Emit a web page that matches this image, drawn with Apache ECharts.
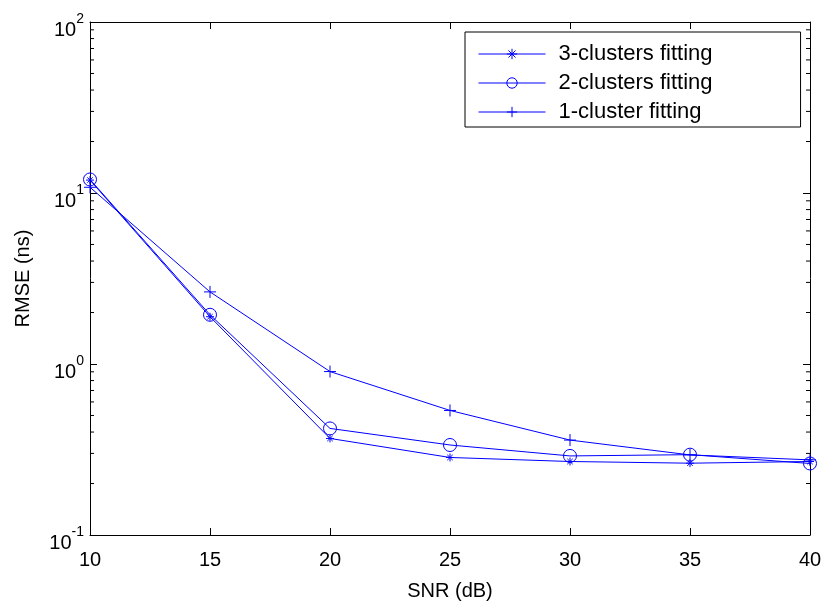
<!DOCTYPE html>
<html><head><meta charset="utf-8">
<script src="https://cdn.jsdelivr.net/npm/echarts@6/dist/echarts.min.js"></script>
<style>html,body{margin:0;padding:0;background:#fff}#c{width:827px;height:606px}</style>
</head><body><div id="c"></div>
<script>
const snr = [10, 15, 20, 25, 30, 35, 40];
const rmse3 = [11.9, 1.89, 0.367, 0.284, 0.269, 0.263, 0.269];
const rmse2 = [12.0, 1.94, 0.42, 0.336, 0.29, 0.295, 0.262];
const rmse1 = [10.8, 2.64, 0.903, 0.535, 0.359, 0.294, 0.275];
const seriesNames = ['3-clusters fitting', '2-clusters fitting', '1-cluster fitting'];
const minorTickValues = [0.2,0.3,0.4,0.5,0.6,0.7,0.8,0.9,2,3,4,5,6,7,8,9,20,30,40,50,60,70,80,90];

const FONT = 'Liberation Sans, Arial, Helvetica, sans-serif';
const BLUE = '#0000ff';
const STAR = 'path://M5,0L5,10M0,5L10,5M1.6,1.6L8.4,8.4M8.4,1.6L1.6,8.4';
const PLUS = 'path://M5,0L5,10M0,5L10,5';

function pairs(ys){ return snr.map((x,i)=>[x, ys[i]]); }
function lineSeries(name, ys, symbol, size){
  return {
    name, type:'line', data: pairs(ys), symbol, symbolSize: size,
    lineStyle:{color:BLUE, width:1},
    itemStyle:{color:'none', borderColor:BLUE, borderWidth:1},
    emphasis:{disabled:true}, animation:false, z:3
  };
}

const chart = echarts.init(document.getElementById('c'));
chart.setOption({
  animation:false,
  backgroundColor:'#fff',
  grid:{left:90, right:17, top:22, bottom:65, containLabel:false},
  xAxis:[{
    type:'value', min:10, max:40, interval:5, position:'bottom',
    name:'SNR (dB)', nameLocation:'middle', nameGap:46,
    nameTextStyle:{fontFamily:FONT, fontSize:20, color:'#000'},
    axisLine:{lineStyle:{color:'#000', width:1}},
    axisTick:{inside:true, length:7, lineStyle:{color:'#000'}},
    axisLabel:{fontFamily:FONT, fontSize:20, color:'#000', margin:15},
    splitLine:{show:false}
  },{
    type:'value', min:10, max:40, interval:5, position:'top',
    axisLine:{lineStyle:{color:'#000', width:1}},
    axisTick:{inside:true, length:7, lineStyle:{color:'#000'}},
    axisLabel:{show:false}, splitLine:{show:false}
  }],
  yAxis:[{
    type:'log', logBase:10, min:0.1, max:100, position:'left',
    name:'RMSE (ns)', nameLocation:'middle', nameGap:57,
    nameTextStyle:{fontFamily:FONT, fontSize:20, color:'#000'},
    axisLine:{show:true, lineStyle:{color:'#000', width:1}},
    axisTick:{inside:true, length:7, lineStyle:{color:'#000'}},
    axisLabel:{
      margin:6, color:'#000', padding:[8,0,0,0],
      formatter: v => '{b|10}{s|' + Math.round(Math.log10(v)) + '}',
      rich:{
        b:{fontFamily:FONT, fontSize:20, color:'#000', lineHeight:28, verticalAlign:'bottom'},
        s:{fontFamily:FONT, fontSize:14, color:'#000', lineHeight:14, verticalAlign:'top'}
      }
    },
    splitLine:{show:false}
  },{
    type:'log', logBase:10, min:0.1, max:100, position:'right',
    axisLine:{show:true, lineStyle:{color:'#000', width:1}},
    axisTick:{inside:true, length:7, lineStyle:{color:'#000'}},
    axisLabel:{show:false}, splitLine:{show:false}
  }],
  legend:{
    data: seriesNames, orient:'vertical', left:465, top:32,
    backgroundColor:'#fff', borderColor:'#000', borderWidth:1,
    padding:[11, 88, 4, 13], itemGap:7, itemWidth:67, itemHeight:13,
    lineStyle:{width:1},
    itemStyle:{borderWidth:1, color:'none', borderColor:BLUE},
    textStyle:{fontFamily:FONT, fontSize:22, color:'#000', lineHeight:22, padding:[0,0,0,8]},
    selectedMode:false
  },
  series:[
    lineSeries(seriesNames[0], rmse3, STAR, 8),
    lineSeries(seriesNames[1], rmse2, 'circle', 13),
    lineSeries(seriesNames[2], rmse1, PLUS, 12),
    {
      type:'custom', name:'minorTicks', silent:true, animation:false, z:2,
      data: minorTickValues.map(v=>[10, v]),
      renderItem:(params, api)=>{
        const v = api.value(1);
        const l = api.coord([10, v]);
        const r = api.coord([40, v]);
        return {type:'group', children:[
          {type:'line', shape:{x1:l[0], y1:l[1], x2:l[0]+4, y2:l[1]}, style:{stroke:'#000', lineWidth:1}},
          {type:'line', shape:{x1:r[0]-4, y1:r[1], x2:r[0], y2:r[1]}, style:{stroke:'#000', lineWidth:1}}
        ]};
      }
    }
  ]
});
</script></body></html>
